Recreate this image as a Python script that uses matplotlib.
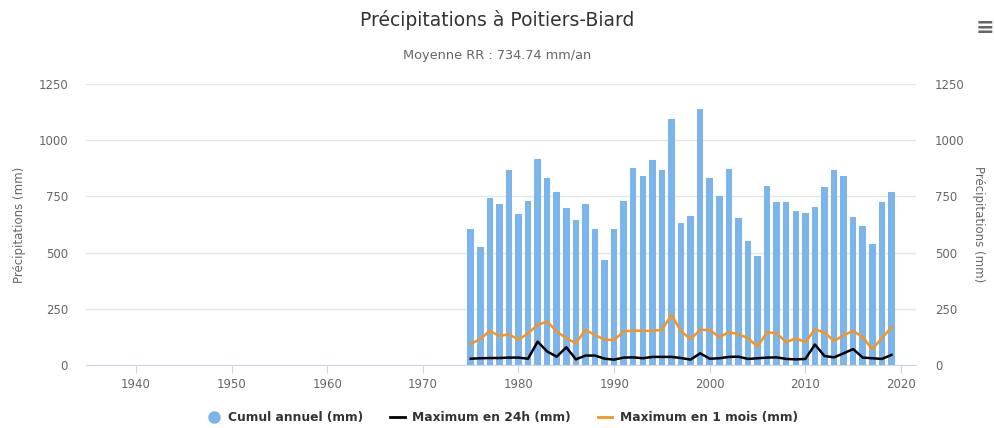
import matplotlib.pyplot as plt
from matplotlib.lines import Line2D

years = list(range(1975, 2020))
cumul = [607, 527, 744, 714, 866, 673, 729, 915, 830, 769,
         699, 647, 714, 607, 466, 607, 729, 876, 841, 911,
         866, 1094, 632, 662, 1138, 830, 750, 870, 655, 552,
         487, 796, 723, 723, 684, 674, 704, 790, 866, 841,
         659, 618, 537, 723, 769]
max24h = [28, 30, 31, 31, 33, 33, 28, 104, 60, 37,
          79, 25, 42, 42, 28, 24, 33, 34, 30, 36,
          36, 36, 31, 24, 52, 28, 30, 36, 37, 27,
          30, 33, 34, 27, 25, 27, 91, 40, 34, 52,
          71, 33, 30, 27, 45]
max1mois = [94, 115, 152, 129, 137, 112, 141, 179, 193, 149,
            119, 97, 156, 134, 112, 112, 149, 153, 152, 152,
            156, 223, 150, 115, 156, 156, 124, 146, 137, 119,
            82, 146, 141, 101, 119, 101, 159, 144, 107, 132,
            152, 124, 70, 119, 167]
xticks = [1940, 1950, 1960, 1970, 1980, 1990, 2000, 2010, 2020]
yticks = [0, 250, 500, 750, 1000, 1250]

BLUE = '#7cb5ec'
ORANGE = '#f7941d'
GREY = '#666666'

fig = plt.figure(figsize=(9.94, 4.28), dpi=100)
ax = fig.add_axes([86/994, 1-365/428, (916-86)/994, (365-84)/428])

ax.bar(years, cumul, width=0.68, color=BLUE, zorder=2)
ax.plot(years, max24h, color='black', lw=1.8, zorder=3)
ax.plot(years, max1mois, color=ORANGE, lw=1.8, zorder=3)

ax.set_xlim(1934.77, 2021.57)
ax.set_ylim(0, 1250)
ax.set_xticks(xticks)
ax.set_yticks(yticks)
ax.grid(axis='y', color='#e6e6e6', lw=1, zorder=0)
for s in ['top', 'right', 'left']:
    ax.spines[s].set_visible(False)
ax.spines['bottom'].set_color('#ccd6eb')
ax.tick_params(axis='x', colors=GREY, labelsize=8.5, length=6, color='#ccd6eb', pad=3)
ax.tick_params(axis='y', colors=GREY, labelsize=8.5, length=0, pad=13)
ax.set_ylabel('Précipitations (mm)', color=GREY, fontsize=8.5, labelpad=9)

ax2 = ax.twinx()
ax2.set_ylim(0, 1250)
ax2.set_yticks(yticks)
for s in ['top', 'right', 'left', 'bottom']:
    ax2.spines[s].set_visible(False)
ax2.tick_params(axis='y', colors=GREY, labelsize=8.5, length=0, pad=13.5)
ax2.set_ylabel('Précipitations (mm)', color=GREY, fontsize=8.5, rotation=-90, labelpad=15)

fig.text(0.5, 1-20/428, 'Précipitations à Poitiers-Biard', ha='center', va='center',
         fontsize=13.5, color='#333333')
fig.text(0.5, 1-56/428, 'Moyenne RR : 734.74 mm/an', ha='center', va='center',
         fontsize=9.3, color=GREY)
fig.text(985/994, 1-28/428, '≡', ha='center', va='center', fontsize=16, color=GREY,
         fontweight='bold')

handles = [Line2D([], [], marker='o', ls='', color=BLUE, markersize=8),
           Line2D([], [], color='black', lw=2),
           Line2D([], [], color=ORANGE, lw=2)]
labels = ['Cumul annuel (mm)', 'Maximum en 24h (mm)', 'Maximum en 1 mois (mm)']
leg = fig.legend(handles, labels, loc='center', bbox_to_anchor=(0.505, 1-418/428), ncol=3,
                 frameon=False, fontsize=8.8, handlelength=1.2, columnspacing=2.2,
                 handletextpad=0.6)
for t in leg.get_texts():
    t.set_fontweight('bold')
    t.set_color('#333333')

fig.savefig('out.png', dpi=100)
